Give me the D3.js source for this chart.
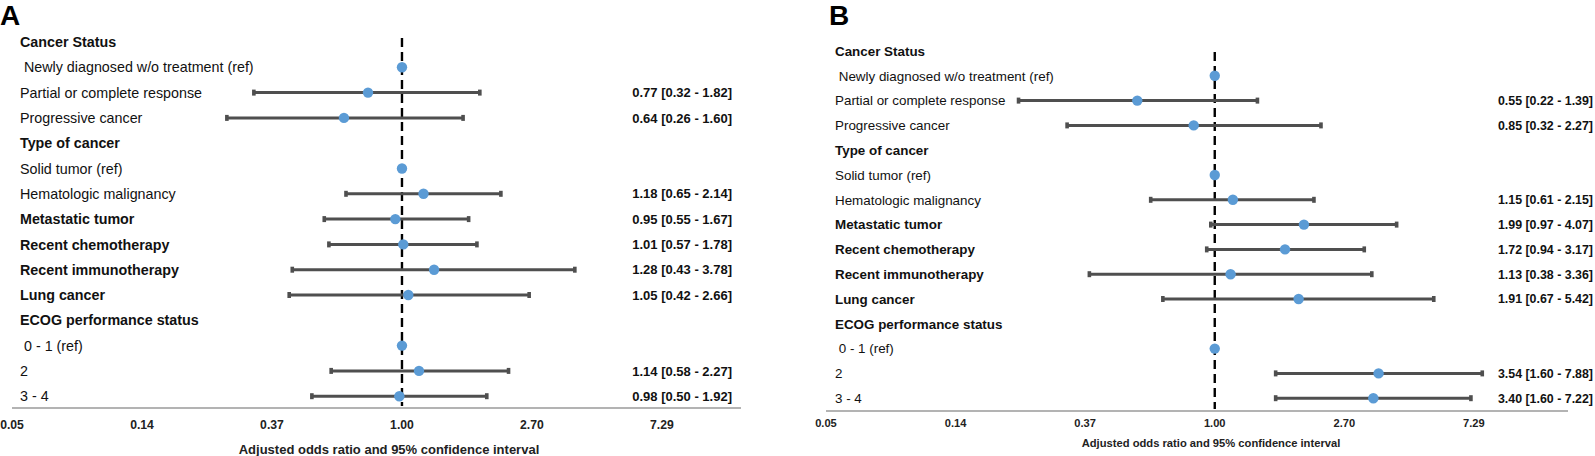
<!DOCTYPE html>
<html>
<head>
<meta charset="utf-8">
<script src="https://cdn.jsdelivr.net/npm/d3@7"></script>
<style>
  html, body { margin: 0; padding: 0; background: #fff; }
  svg { display: block; font-family: "Liberation Sans", Arial, sans-serif; }
  text { white-space: pre; }
</style>
</head>
<body>
<svg id="chart" width="1595" height="456"></svg>
<script>
// ---------- DATA ----------
const rowLabels = [
  "Cancer Status",
  " Newly diagnosed w/o treatment (ref)",
  "Partial or complete response",
  "Progressive cancer",
  "Type of cancer",
  "Solid tumor (ref)",
  "Hematologic malignancy",
  "Metastatic tumor",
  "Recent chemotherapy",
  "Recent immunotherapy",
  "Lung cancer",
  "ECOG performance status",
  " 0 - 1 (ref)",
  "2",
  "3 - 4"
];
// row kind: h = header (bold, no mark), r = reference (dot only), b = bold row with CI, n = normal row with CI
const rowKinds = ["h","r","n","n","h","r","n","b","b","b","b","h","r","n","n"];

// Panel A estimates (null = no mark)
const orA    = [null, 1.00, 0.77, 0.64, null, 1.00, 1.18, 0.95, 1.01, 1.28, 1.05, null, 1.00, 1.14, 0.98];
const lowA   = [null, null, 0.32, 0.26, null, null, 0.65, 0.55, 0.57, 0.43, 0.42, null, null, 0.58, 0.50];
const highA  = [null, null, 1.82, 1.60, null, null, 2.14, 1.67, 1.78, 3.78, 2.66, null, null, 2.27, 1.92];

// Panel B estimates
const orB    = [null, 1.00, 0.55, 0.85, null, 1.00, 1.15, 1.99, 1.72, 1.13, 1.91, null, 1.00, 3.54, 3.40];
const lowB   = [null, null, 0.22, 0.32, null, null, 0.61, 0.97, 0.94, 0.38, 0.67, null, null, 1.60, 1.60];
const highB  = [null, null, 1.39, 2.27, null, null, 2.15, 4.07, 3.17, 3.36, 5.42, null, null, 7.88, 7.22];

// Axis ticks (e^-3 .. e^2) and their printed labels
const tickExponents = [-3, -2, -1, 0, 1, 2];
const tickLabels = ["0.05", "0.14", "0.37", "1.00", "2.70", "7.29"];
const axisTitle = "Adjusted odds ratio and 95% confidence interval";
const panelLetters = ["A", "B"];

// ---------- DRAW ----------
const svg = d3.select("#chart");

const panels = [
  { letter: panelLetters[0], or: orA, low: lowA, high: highA,
    letterX: 0, letterY: 25,
    axisX0: 12, axisX1: 741, axisY: 408, maxExp: 2.608,
    rowY0: 42, rowStep: 25.3, labelX: 20, valueX: 732,
    labelSize: 14.3, valueSize: 13, tickSize: 12.2, titleSize: 13, titleX: 389, titleY: 453.5, tickY: 428.5,
    dashTop: 38 },
  { letter: panelLetters[1], or: orB, low: lowB, high: highB,
    letterX: 829, letterY: 25,
    axisX0: 826, axisX1: 1568, axisY: 411, maxExp: 2.726,
    rowY0: 51, rowStep: 24.8, labelX: 835, valueX: 1593,
    labelSize: 13.4, valueSize: 12.4, tickSize: 11.1, titleSize: 11.2, titleX: 1211, titleY: 447, tickY: 427,
    dashTop: 52 }
];

const fmt = v => v.toFixed(2);

panels.forEach(p => {
  const g = svg.append("g");
  const x = d3.scaleLog()
    .domain([Math.exp(-3), Math.exp(p.maxExp)])
    .range([p.axisX0, p.axisX1]);
  const y = d3.scaleLinear().domain([0, 1]).range([p.rowY0, p.rowY0 + p.rowStep]);

  // panel letter
  g.append("text").attr("x", p.letterX).attr("y", p.letterY)
    .attr("font-size", 28).attr("font-weight", "bold").attr("fill", "#000")
    .text(p.letter);

  // axis line
  g.append("line")
    .attr("x1", p.axisX0).attr("x2", p.axisX1)
    .attr("y1", p.axisY).attr("y2", p.axisY)
    .attr("stroke", "#9a9a9a").attr("stroke-width", 1.6);

  // tick labels
  g.selectAll(".tick").data(tickExponents).enter().append("text")
    .attr("x", d => x(Math.exp(d))).attr("y", p.tickY)
    .attr("text-anchor", "middle").attr("font-size", p.tickSize).attr("font-weight", "bold")
    .attr("fill", "#222")
    .text((d, i) => tickLabels[i]);

  // axis title
  g.append("text").attr("x", p.titleX).attr("y", p.titleY)
    .attr("text-anchor", "middle").attr("font-size", p.titleSize).attr("font-weight", "bold")
    .attr("fill", "#222").text(axisTitle);

  // reference dashed line at OR = 1
  g.append("line")
    .attr("x1", x(1)).attr("x2", x(1))
    .attr("y1", p.dashTop).attr("y2", p.axisY - 2)
    .attr("stroke", "#000").attr("stroke-width", 2.4)
    .attr("stroke-dasharray", "9,5");

  // row labels
  g.selectAll(".lab").data(rowLabels).enter().append("text")
    .attr("x", p.labelX).attr("y", (d, i) => y(i))
    .attr("dy", "0.36em")
    .attr("font-size", p.labelSize)
    .attr("font-weight", (d, i) => (rowKinds[i] === "h" || rowKinds[i] === "b") ? "bold" : "normal")
    .attr("fill", "#111")
    .text(d => d);

  const idx = d3.range(rowLabels.length);
  const ciRows = idx.filter(i => p.low[i] !== null);
  const dotRows = idx.filter(i => p.or[i] !== null);

  // CI lines
  g.selectAll(".ci").data(ciRows).enter().append("line")
    .attr("x1", i => x(p.low[i])).attr("x2", i => x(p.high[i]))
    .attr("y1", i => y(i)).attr("y2", i => y(i))
    .attr("stroke", "#4f4f4f").attr("stroke-width", 3);

  // caps
  ["low", "high"].forEach(side => {
    g.selectAll(".cap-" + side).data(ciRows).enter().append("rect")
      .attr("x", i => x(p[side][i]) - 1.8).attr("y", i => y(i) - 3)
      .attr("width", 3.6).attr("height", 6)
      .attr("fill", "#4f4f4f");
  });

  // dots
  g.selectAll(".dot").data(dotRows).enter().append("circle")
    .attr("cx", i => x(p.or[i])).attr("cy", i => y(i))
    .attr("r", 5.2).attr("fill", "#5b9bd5");

  // value labels
  g.selectAll(".val").data(ciRows).enter().append("text")
    .attr("x", p.valueX).attr("y", i => y(i))
    .attr("dy", "0.36em").attr("text-anchor", "end")
    .attr("font-size", p.valueSize).attr("font-weight", "bold").attr("fill", "#111")
    .text(i => `${fmt(p.or[i])} [${fmt(p.low[i])} - ${fmt(p.high[i])}]`);
});
</script>
</body>
</html>
